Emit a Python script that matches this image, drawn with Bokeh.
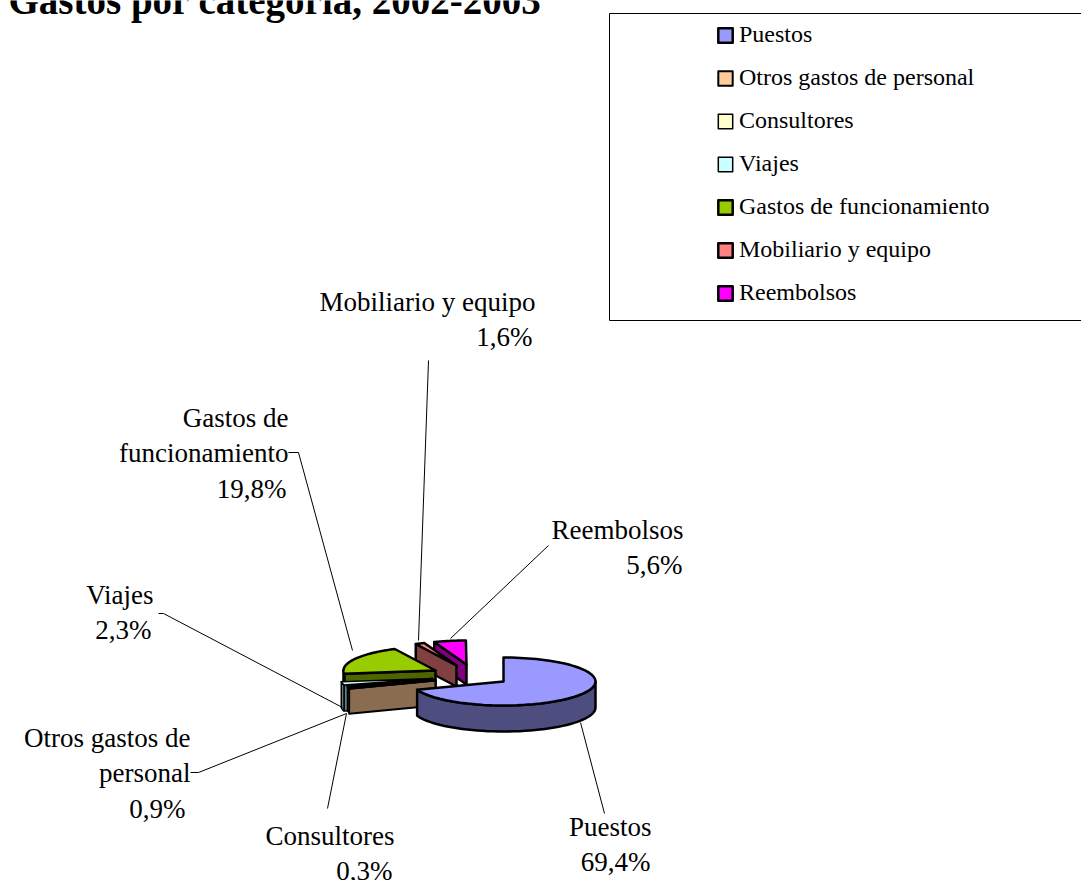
import math
from bokeh.plotting import figure
from bokeh.embed import file_html
from bokeh.resources import INLINE
from bokeh.models import Legend, LegendItem, Range1d
from bokeh.core.properties import value

TITLE = "Gastos por categoría, 2002-2003"
categories = ["Puestos", "Otros gastos de personal", "Consultores", "Viajes",
              "Gastos de funcionamiento", "Mobiliario y equipo", "Reembolsos"]
shares = [69.4, 0.9, 0.3, 2.3, 19.8, 1.6, 5.6]
top_colors = ["#9999ff", "#ffcc99", "#ffffcc", "#ccffff", "#99cc00", "#ff8080", "#ff00ff"]
wall_colors = ["#4d4d80", "#8a6d50", "#808066", "#668080", "#4d6600", "#804040", "#800080"]
share_labels = ["69,4%", "0,9%", "0,3%", "2,3%", "19,8%", "1,6%", "5,6%"]

# layout (pixels of the picture)
apex = [(503, 681), (435, 680), (435, 679), (432, 678), (435, 670), (456, 665), (466, 664)]
depth = [26, 25, 25, 26, 26, 21, 20]
stroke = [2.5, 2, 1.5, 1.5, 2.5, 2.5, 2.5]
RX, RY = 92, 24
draw_order = [6, 5, 4, 3, 2, 1, 0]

W, H = 1081, 880
p = figure(width=W, height=H, x_range=Range1d(0, W), y_range=Range1d(H, 0),
           output_backend="svg", toolbar_location=None, min_border=0)
p.axis.visible = False
p.grid.visible = False
p.outline_line_color = None

starts, acc = [], 0.0
for s in shares:
    starts.append(acc)
    acc += s

def pt(i, t):
    a = math.radians(t)
    return apex[i][0] + RX * math.sin(a), apex[i][1] - RY * math.cos(a)

def arc(i, t0, t1, n=48):
    return [pt(i, t0 + (t1 - t0) * k / n) for k in range(n + 1)]

top_renderers = {}
for i in draw_order:
    t0 = starts[i] * 3.6
    t1 = (starts[i] + shares[i]) * 3.6
    d = depth[i]
    ax, ay = apex[i]
    line = dict(line_color="black", line_width=stroke[i], line_join="round")
    if i == 0:
        rim = arc(i, 90, t1)
        wall = rim + [(x, y + d) for x, y in reversed(rim)]
        p.patch([q[0] for q in wall], [q[1] for q in wall], fill_color=wall_colors[i], **line)
    else:
        ex, ey = pt(i, t0)
        wall = [(ax, ay), (ex, ey), (ex, ey + d), (ax, ay + d)]
        p.patch([q[0] for q in wall], [q[1] for q in wall], fill_color=wall_colors[i], **line)
        if i in (3, 4):
            # only the part of the rim that faces the viewer
            rim = arc(i, t0, min(t1, 270), 12)
            wall = rim + [(x, y + d) for x, y in reversed(rim)]
            p.patch([q[0] for q in wall], [q[1] for q in wall], fill_color=wall_colors[i], **line)
    outline = [(ax, ay)] + arc(i, t0, t1)
    top_renderers[i] = p.patch([q[0] for q in outline], [q[1] for q in outline],
                               fill_color=top_colors[i], **line)

leader_x = [[580, 604], [346, 198, 190], [346, 327], [342, 163, 158],
            [352, 298, 288], [418, 428], [450, 548]]
leader_y = [[722, 813], [713, 772, 772], [713, 808], [707, 613, 613],
            [650, 452, 452], [640, 360], [638, 545]]
p.multi_line(leader_x, leader_y, line_color="black", line_width=1)

names = [["Puestos"], ["Otros gastos de", "personal"], ["Consultores"], ["Viajes"],
         ["Gastos de", "funcionamiento"], ["Mobiliario y equipo"], ["Reembolsos"]]
label_right = [651, 190, 394, 153, 288, 535, 683]
percent_right = [650, 185, 392, 151, 286, 532, 682]
label_first = [835, 746, 844, 603, 426, 310, 538]
label_step = 35.5
FONT_SHIFT = 9
tx, ty, tt = [], [], []
for i, nm in enumerate(names):
    for k, s in enumerate(nm + [share_labels[i]]):
        tx.append(label_right[i] if k < len(nm) else percent_right[i])
        ty.append(label_first[i] + k * label_step - FONT_SHIFT)
        tt.append(s)
p.text(tx, ty, tt, text_font=value("Liberation Serif"), text_font_size="27px",
       text_align="right", text_baseline="alphabetic", text_color="black")

p.text([8], [0], [TITLE], text_font=value("Liberation Serif"), text_font_size="39px",
       text_font_style="bold", text_align="left", text_baseline="alphabetic", text_color="black")

p.quad(left=[609], right=[1090], top=[13], bottom=[320], fill_color="white", fill_alpha=0,
       line_color="black", line_width=1)

items = [LegendItem(label=value(c), renderers=[top_renderers[i]]) for i, c in enumerate(categories)]
legend = Legend(items=items, location=(716, H - 306), orientation="vertical",
                glyph_width=18, glyph_height=18, label_width=200, label_height=16,
                label_standoff=5, spacing=16, padding=0, margin=0,
                border_line_color=None, background_fill_alpha=0,
                label_text_font="Liberation Serif", label_text_font_size="24px",
                label_text_color="black", click_policy="none")
p.add_layout(legend, "center")

open("out.html", "w").write(file_html(p, INLINE))
